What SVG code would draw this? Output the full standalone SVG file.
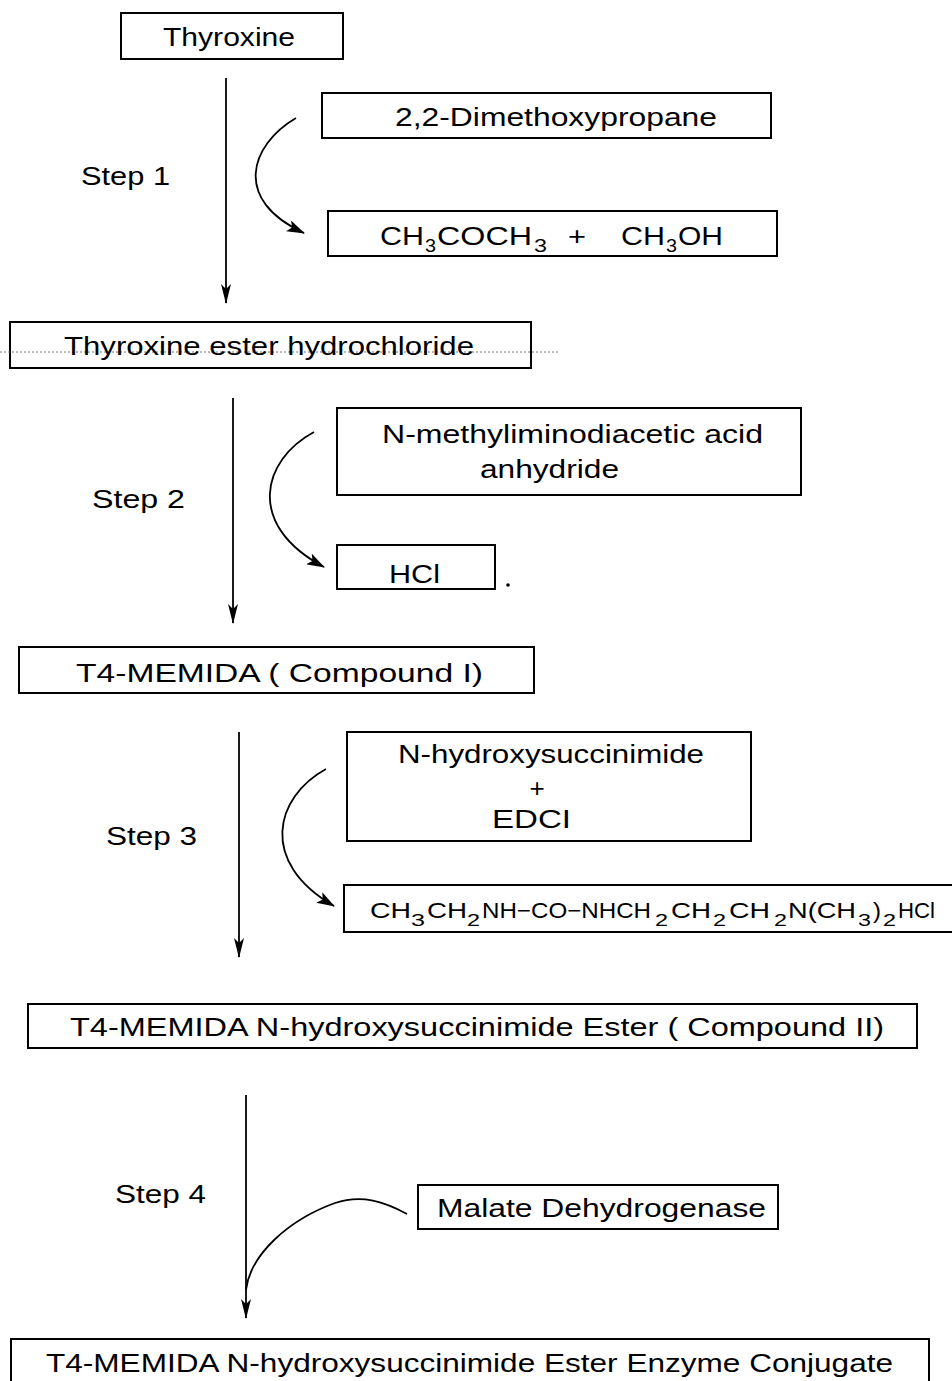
<svg xmlns="http://www.w3.org/2000/svg" width="952" height="1381" viewBox="0 0 952 1381">
<defs>
<style>
.box{fill:#fff;stroke:#000;stroke-width:2}
.t{font-family:"Liberation Sans",Arial,sans-serif;font-size:26px;fill:#000}
.f{font-family:"Liberation Sans",Arial,sans-serif;fill:#000}
.ln{fill:none;stroke:#000;stroke-width:1.8}
</style>
<marker id="ah" viewBox="0 0 20 10" refX="19" refY="5" markerWidth="20" markerHeight="10" markerUnits="userSpaceOnUse" orient="auto">
<path d="M0,0 L20,5 L0,10 L5,5 Z" fill="#000"/>
</marker>
<marker id="ah2" viewBox="0 0 18 12" refX="17" refY="6" markerWidth="18" markerHeight="12" markerUnits="userSpaceOnUse" orient="auto">
<path d="M0,0 L18,6 L0,12 L4,6 Z" fill="#000"/>
</marker>
</defs>
<rect width="952" height="1381" fill="#fff"/>

<g id="connectors">
<line class="ln" x1="226" y1="78" x2="226" y2="303" marker-end="url(#ah)"/>
<path class="ln" d="M296,118 C250,145 232,200 304,233" marker-end="url(#ah2)"/>
<line class="ln" x1="233" y1="398" x2="233" y2="623" marker-end="url(#ah)"/>
<path class="ln" d="M314,432 C262,460 245,525 324,567" marker-end="url(#ah2)"/>
<line class="ln" x1="239" y1="732" x2="239" y2="957" marker-end="url(#ah)"/>
<path class="ln" d="M326,769 C275,797 258,862 334,906" marker-end="url(#ah2)"/>
<line class="ln" x1="246" y1="1095" x2="246" y2="1318" marker-end="url(#ah)"/>
<path class="ln" d="M407,1214 C385,1202 362,1194 335,1203 C288,1220 250,1255 246,1290"/>
</g>

<g id="step-labels">
<text class="t" x="81" y="185" textLength="89" lengthAdjust="spacingAndGlyphs">Step 1</text>
<text class="t" x="92" y="508" textLength="93" lengthAdjust="spacingAndGlyphs">Step 2</text>
<text class="t" x="106" y="845" textLength="91" lengthAdjust="spacingAndGlyphs">Step 3</text>
<text class="t" x="115" y="1203" textLength="91" lengthAdjust="spacingAndGlyphs">Step 4</text>
</g>

<g id="thyroxine">
<rect class="box" x="121" y="13" width="222" height="46"/>
<text class="t" x="163" y="46" textLength="132" lengthAdjust="spacingAndGlyphs">Thyroxine</text>
</g>

<g id="dimethoxypropane">
<rect class="box" x="322" y="93" width="449" height="45"/>
<text class="t" x="395" y="126" textLength="322" lengthAdjust="spacingAndGlyphs">2,2-Dimethoxypropane</text>
</g>

<g id="byproducts1">
<rect class="box" x="328" y="211" width="449" height="45"/>
<text class="f" font-size="26"><tspan x="380" y="245" textLength="44" lengthAdjust="spacingAndGlyphs">CH</tspan><tspan x="425" y="252" font-size="19" textLength="11" lengthAdjust="spacingAndGlyphs">3</tspan><tspan x="437" y="245" textLength="95" lengthAdjust="spacingAndGlyphs">COCH</tspan><tspan x="534" y="252" font-size="19" textLength="13" lengthAdjust="spacingAndGlyphs">3</tspan><tspan x="568" y="245" textLength="18" lengthAdjust="spacingAndGlyphs">+</tspan><tspan x="621" y="245" textLength="44" lengthAdjust="spacingAndGlyphs">CH</tspan><tspan x="666" y="252" font-size="19" textLength="11" lengthAdjust="spacingAndGlyphs">3</tspan><tspan x="678" y="245" textLength="45" lengthAdjust="spacingAndGlyphs">OH</tspan></text>
</g>

<g id="thyroxine-ester">
<rect class="box" x="10" y="322" width="521" height="46"/>
<line x1="0" y1="352" x2="558" y2="352" stroke="#777" stroke-width="1" stroke-dasharray="2,2"/>
<text class="t" x="64" y="355" textLength="410" lengthAdjust="spacingAndGlyphs">Thyroxine ester hydrochloride</text>
</g>

<g id="memida-anhydride">
<rect class="box" x="337" y="408" width="464" height="87"/>
<text class="t" x="382" y="443" textLength="381" lengthAdjust="spacingAndGlyphs">N-methyliminodiacetic acid</text>
<text class="t" x="480" y="478" textLength="139" lengthAdjust="spacingAndGlyphs">anhydride</text>
</g>

<g id="hcl">
<rect class="box" x="337" y="545" width="158" height="44"/>
<text class="t" x="389" y="583" textLength="51" lengthAdjust="spacingAndGlyphs">HCl</text>
<circle cx="508" cy="585" r="1.8" fill="#000"/>
</g>

<g id="compound-1">
<rect class="box" x="19" y="647" width="515" height="46"/>
<text class="t" x="76" y="682" textLength="407" lengthAdjust="spacingAndGlyphs">T4-MEMIDA ( Compound I)</text>
</g>

<g id="nhs-edci">
<rect class="box" x="347" y="732" width="404" height="109"/>
<text class="t" x="398" y="763" textLength="306" lengthAdjust="spacingAndGlyphs">N-hydroxysuccinimide</text>
<text class="t" x="537" y="797" text-anchor="middle">+</text>
<text class="t" x="492" y="828" textLength="79" lengthAdjust="spacingAndGlyphs">EDCI</text>
</g>

<g id="urea-byproduct">
<rect class="box" x="344" y="885" width="620" height="47"/>
<text class="f" font-size="22"><tspan x="370" y="918" textLength="41" lengthAdjust="spacingAndGlyphs">CH</tspan><tspan x="411" y="926" font-size="17" textLength="14" lengthAdjust="spacingAndGlyphs">3</tspan><tspan x="427" y="918" textLength="40" lengthAdjust="spacingAndGlyphs">CH</tspan><tspan x="467" y="926" font-size="17" textLength="13" lengthAdjust="spacingAndGlyphs">2</tspan><tspan x="482" y="918" textLength="169" lengthAdjust="spacingAndGlyphs">NH−CO−NHCH</tspan><tspan x="655" y="926" font-size="17" textLength="13" lengthAdjust="spacingAndGlyphs">2</tspan><tspan x="671" y="918" textLength="40" lengthAdjust="spacingAndGlyphs">CH</tspan><tspan x="713" y="926" font-size="17" textLength="13" lengthAdjust="spacingAndGlyphs">2</tspan><tspan x="729" y="918" textLength="41" lengthAdjust="spacingAndGlyphs">CH</tspan><tspan x="774" y="926" font-size="17" textLength="13" lengthAdjust="spacingAndGlyphs">2</tspan><tspan x="788" y="918" textLength="68" lengthAdjust="spacingAndGlyphs">N(CH</tspan><tspan x="858" y="926" font-size="17" textLength="13" lengthAdjust="spacingAndGlyphs">3</tspan><tspan x="873" y="918" textLength="8" lengthAdjust="spacingAndGlyphs">)</tspan><tspan x="883" y="926" font-size="17" textLength="13" lengthAdjust="spacingAndGlyphs">2</tspan><tspan x="898" y="918" textLength="37" lengthAdjust="spacingAndGlyphs">HCl</tspan></text>
</g>

<g id="compound-2">
<rect class="box" x="28" y="1004" width="889" height="44"/>
<text class="t" x="70" y="1036" textLength="814" lengthAdjust="spacingAndGlyphs">T4-MEMIDA N-hydroxysuccinimide Ester ( Compound II)</text>
</g>

<g id="malate-dehydrogenase">
<rect class="box" x="418" y="1185" width="360" height="44"/>
<text class="t" x="437" y="1217" textLength="329" lengthAdjust="spacingAndGlyphs">Malate Dehydrogenase</text>
</g>

<g id="conjugate">
<rect class="box" x="11" y="1339" width="918" height="60"/>
<text class="t" x="46" y="1372" textLength="847" lengthAdjust="spacingAndGlyphs">T4-MEMIDA N-hydroxysuccinimide Ester Enzyme Conjugate</text>
</g>
</svg>
